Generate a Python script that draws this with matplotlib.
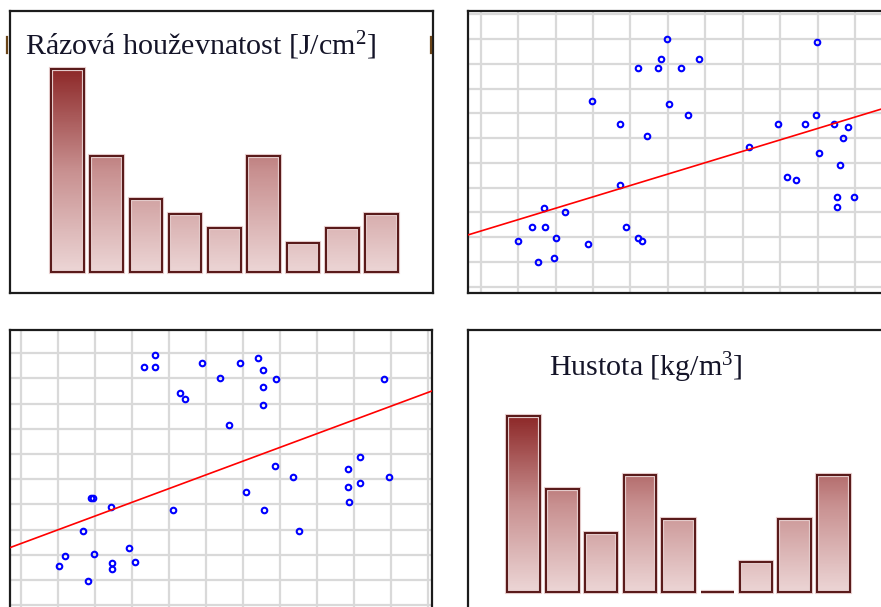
import numpy as np
import matplotlib
matplotlib.use("Agg")
import matplotlib.pyplot as plt
from matplotlib.colors import LinearSegmentedColormap

plt.rcParams["mathtext.fontset"] = "custom"
plt.rcParams["mathtext.rm"] = "Liberation Serif"
plt.rcParams["mathtext.it"] = "Liberation Serif:italic"

# bar panels (relative units)
impact_values = [14, 8, 5, 4, 3, 8, 2, 3, 4]
density_values = [12, 7, 4, 8, 5, 0, 2, 5, 8]
impact_title = r"Rázová houževnatost [J/cm$^2$]"
density_title = r"Hustota [kg/m$^3$]"

# upper scatter panel (grid units)
upper_x = [4.97, 8.98, 4.82, 5.84, 4.19, 4.74, 5.35, 2.97, 5.04, 5.53, 8.95, 3.73, 7.95,
           8.65, 9.44, 9.82, 4.45, 9.67, 7.16, 9.04, 9.60, 8.18, 8.42, 3.73, 9.51, 9.98,
           9.51, 1.70, 2.25, 1.38, 1.71, 3.89, 2.01, 0.99, 2.87, 4.21, 4.30, 1.53, 1.95]
upper_y = [10.0, 9.87, 9.19, 9.18, 8.82, 8.82, 8.82, 7.51, 7.38, 6.93, 6.93, 6.56, 6.56,
           6.56, 6.56, 6.45, 6.10, 5.99, 5.64, 5.39, 4.91, 4.44, 4.30, 4.11, 3.62, 3.62,
           3.23, 3.17, 3.03, 2.42, 2.42, 2.42, 1.95, 1.84, 1.71, 1.98, 1.84, 1.01, 1.15]
upper_trend = (0.46, 2.25)

# lower scatter panel (grid units)
lower_x = [3.62, 3.33, 3.62, 4.90, 5.92, 6.40, 6.55, 5.38, 6.88, 9.81, 6.55, 4.30, 4.42,
           6.55, 5.62, 6.87, 9.16, 8.84, 7.36, 9.94, 8.84, 9.16, 6.08, 1.89, 1.96, 2.44,
           4.10, 6.57, 8.86, 1.67, 7.51, 2.92, 1.20, 1.99, 1.04, 2.47, 2.47, 3.08, 1.82]
lower_y = [8.93, 8.47, 8.47, 8.60, 8.60, 8.80, 8.34, 8.01, 7.98, 7.98, 7.65, 7.41, 7.19,
           6.95, 6.13, 4.53, 4.86, 4.41, 4.08, 4.08, 3.70, 3.84, 3.48, 3.24, 3.24, 2.89,
           2.77, 2.78, 3.11, 1.96, 1.96, 1.26, 0.93, 1.03, 0.56, 0.66, 0.44, 0.70, -0.03]
lower_trend = (0.546, 1.44)

W, H = 881, 607
fig = plt.figure(figsize=(W / 100, H / 100), dpi=100)
fig.patch.set_facecolor("white")

bar_cmap = LinearSegmentedColormap.from_list("bars", ["#ecd5d5", "#c89090", "#8e2a2a"])


def px_axes(left, top, right, bottom):
    return fig.add_axes([left / W, 1 - bottom / H, (right - left) / W, (bottom - top) / H])


def frame(ax):
    for s in ax.spines.values():
        s.set_color("#1c1c1c")
        s.set_linewidth(1.6)
    ax.tick_params(length=0, labelbottom=False, labelleft=False)


def gradient_bars(ax, values, width, xlim, ylim):
    top = max(values)
    for i, v in enumerate(values):
        x0, x1 = i - width / 2, i + width / 2
        if v > 0:
            col = np.linspace(0, v, 80).reshape(-1, 1)
            ax.imshow(col, extent=[x0, x1, 0, v], origin="lower", cmap=bar_cmap,
                      vmin=0, vmax=top, aspect="auto", zorder=1)
    xs = np.arange(len(values))
    # soft halo then dark outline
    ax.bar(xs, values, width=width, fill=False, edgecolor="#ead2d2", linewidth=3.0, zorder=2)
    ax.bar(xs, values, width=width, fill=False, edgecolor="#5a1b1b", linewidth=1.5, zorder=3)
    ax.set_xlim(*xlim)
    ax.set_ylim(*ylim)
    ax.set_xticks([])
    ax.set_yticks([])
    frame(ax)


def scatter_panel(ax, xs, ys, trend, xlim, ylim, yticks):
    ax.set_xticks(range(0, 12))
    ax.set_yticks(yticks)
    ax.grid(True, color="#d9d9d9", linewidth=1.6)
    ax.set_axisbelow(True)
    ax.plot(xs, ys, linestyle="none", marker="o", markersize=4.0, markerfacecolor="none",
            markeredgecolor="#0000ff", markeredgewidth=1.5, zorder=3)
    lx = np.array(xlim)
    ax.plot(lx, trend[0] * lx + trend[1], color="#ff0000", linewidth=1.2, zorder=4)
    ax.set_xlim(*xlim)
    ax.set_ylim(*ylim)
    frame(ax)


# top left: impact strength bars
ax1 = px_axes(10, 11, 433, 293)
gradient_bars(ax1, impact_values, 0.83, (-1.46, 9.31), (-1.45, 18.0))
fig.text(25 / W, 1 - 55 / H, impact_title, fontsize=21.6, family="Liberation Serif",
         color="#141428", va="baseline", ha="left")

# top right: scatter with trend
ax2 = px_axes(468, 11, 900, 293)
scatter_panel(ax2, upper_x, upper_y, upper_trend, (-0.34, 11.2), (-0.25, 11.13), range(0, 12))

# bottom left: scatter with trend
ax3 = px_axes(10, 330, 432, 625)
scatter_panel(ax3, lower_x, lower_y, lower_trend, (-0.29, 11.1), (-1.79, 9.92), range(-1, 10))

# bottom right: density bars
ax4 = px_axes(468, 330, 900, 615)
gradient_bars(ax4, density_values, 0.84, (-1.44, 9.72), (-1.6, 17.92))
fig.text(549 / W, 1 - 376 / H, density_title, fontsize=21.6, family="Liberation Serif",
         color="#141428", va="baseline", ha="left")

# clipped bracket glyphs peeking out at the edges of the first panel
for bx in (7, 431):
    fig.add_artist(plt.Line2D([bx / W, bx / W], [1 - 37 / H, 1 - 53 / H],
                              color="#6a4418", linewidth=1.6))

fig.savefig("out.png", dpi=100, facecolor="white")
